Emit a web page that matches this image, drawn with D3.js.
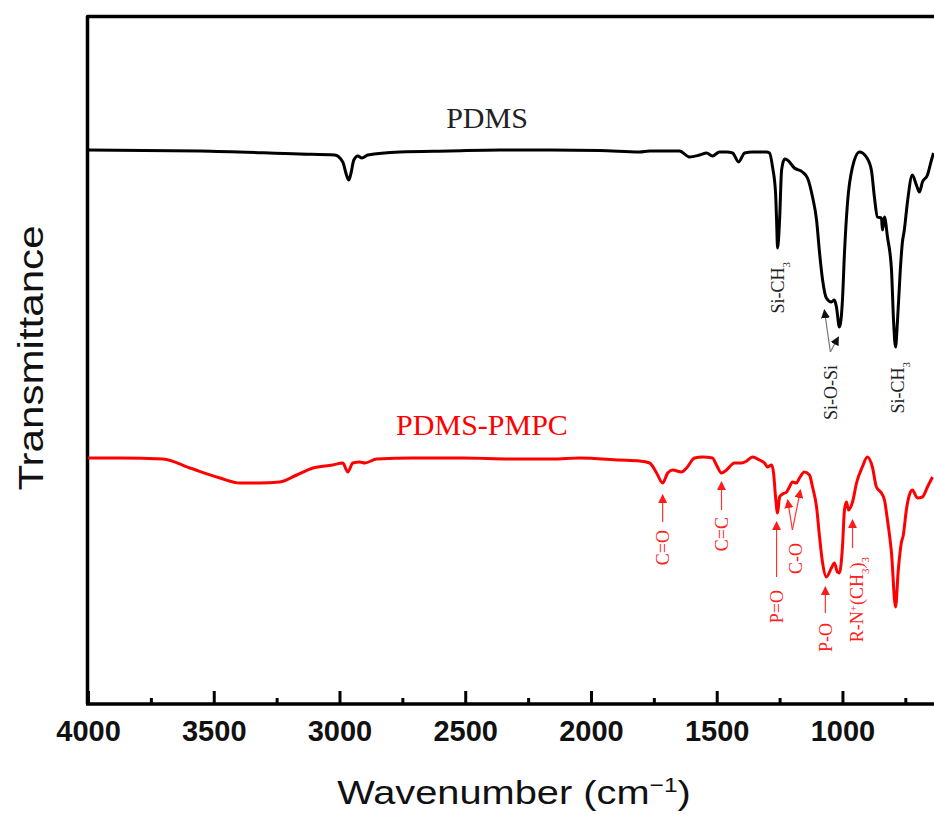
<!DOCTYPE html>
<html>
<head>
<meta charset="utf-8">
<script src="https://cdn.jsdelivr.net/npm/d3@7/dist/d3.min.js"></script>
<style>
body { margin: 0; background: #fff; }
</style>
</head>
<body>
<svg width="934" height="814"></svg>
<script>
// spectra (wavenumber cm-1, transmittance in arbitrary offset units)
var pdmsWn = [4000,3555,3158,3019,2987,2971,2963,2955,2943,2927,2911,2887,2760,2562,2363,2164,1966,1807,1767,1648,1608,1568,1540,1517,1489,1461,1437,1413,1389,1358,1302,1290,1278,1266,1262,1258,1250,1242,1230,1219,1191,1159,1139,1119,1103,1091,1079,1064,1044,1032,1024,1012,1000,992,980,960,932,905,885,873,861,845,841,833,821,805,797,789,781,770,762,754,742,722,706,694,682,662,646,638];
var pdmsT = [138.5,138.25,137.5,137.25,135.5,132,131,132.5,136,137,136.5,137.25,138,138.25,138.5,138.5,138.4,138,138.25,138.25,136.75,137.25,137.75,137,138,138,137.75,135.5,137.75,138,138,137.75,134.25,127.75,121,114,121,133.5,136.25,136,134,133,131.5,126.75,121,112.75,106,101.5,100.5,101,99.25,94.25,101,112.75,125.25,134.25,138,136.75,133.5,126.75,121.75,121.5,118.5,121.75,116.75,108.5,96,89.25,96,108.5,115.25,118.5,125.25,132.25,129.75,128,130.5,132.25,136,137.75];

var pmpcWn = [4000,3873,3702,3595,3475,3396,3317,3237,3170,3106,3027,2987,2967,2947,2919,2899,2852,2709,2510,2311,2152,2045,1886,1807,1767,1739,1715,1695,1675,1640,1620,1588,1556,1517,1501,1481,1461,1429,1401,1381,1358,1330,1310,1298,1282,1274,1266,1258,1250,1238,1222,1211,1199,1183,1171,1151,1131,1119,1103,1091,1079,1064,1044,1032,1020,1012,1000,992,984,976,960,944,921,901,881,865,845,833,821,805,789,778,766,758,746,734,722,702,682,662,642];
var pmpcT = [61.5,61.5,61.25,59,56.5,55.25,55.25,55.5,57.25,59,59.75,60.25,58,60.25,60.5,60.25,61.25,61.5,61.5,61.25,61.25,61.5,61,60.75,60.25,57.75,55.25,57.75,58.5,58,59,61.5,61.75,61.5,59.75,57.75,58.5,60.25,60.25,60.75,61.75,61,60.25,59.25,59.75,57.75,51.75,47.75,51.75,52.5,53,54.25,55.5,55.25,56.5,58,57.25,54.25,49.25,41.75,35.25,31.75,34,35.25,33,32.75,39.25,48.5,50.5,48.5,50.5,55.25,59.25,61.75,59.25,54.25,52.75,51,46,37.75,24.25,33.5,40.25,42.25,48.5,52.25,53.5,51.5,51.75,54.25,56.75];

var majorTicks = [4000,3500,3000,2500,2000,1500,1000];
var minorTicks = [3750,3250,2750,2250,1750,1250,750];

// arrows: [tip wn, tip value, tail wn, tail value]
var redArrows = [[1715,52.25,1715,45.5],[1481,55.5,1481,48.5],[1262,45.5,1262,31.75],[1218,51,1199,43.5],[1167,53.5,1199,43.5],[1068,29.25,1068,22.75],[960,46,960,39]];
var blackArrows = [[1072,98.5,1048,88],[1016,91.75,1048,88]];

// labels: wn of centre, value at top end, text parts [text, shift]
var redLabels = [
  {wn:1715, v:43.5, parts:[["C=O"]]},
  {wn:1481, v:46.75, parts:[["C=C"]]},
  {wn:1262, v:28.5, parts:[["P=O"]]},
  {wn:1187, v:40.25, parts:[["C-O"]]},
  {wn:1068, v:20.25, parts:[["P-O"]]},
  {wn:945, v:36.75, parts:[["R-N"],["+","super"],["(CH"],["3","sub"],[")"],["3","sub"]]}
];
var blackLabels = [
  {wn:1258, v:110.5, parts:[["Si-CH"],["3","sub"]]},
  {wn:1048, v:84.75, parts:[["Si-O-Si"]]},
  {wn:781, v:85.5, parts:[["Si-CH"],["3","sub"]]}
];

var svg = d3.select("svg");

var x = d3.scaleLinear().domain([4000, 636]).range([88, 934]);
var y = d3.scaleLinear().domain([0, 172]).range([704, 16]);

var defs = svg.append("defs");
function marker(id, col) {
  defs.append("marker")
    .attr("id", id)
    .attr("viewBox", "0 0 10 10")
    .attr("refX", 9).attr("refY", 5)
    .attr("markerWidth", 9).attr("markerHeight", 9)
    .attr("markerUnits", "userSpaceOnUse")
    .attr("orient", "auto")
    .append("path")
    .attr("d", "M0,0L10,5L0,10Z")
    .attr("fill", col);
}
marker("headRed", "#ff1a1a");
marker("headBlack", "#111");

// frame
svg.append("path")
  .attr("d", "M87.5,704V16.5H960")
  .attr("fill", "none")
  .attr("stroke", "#000")
  .attr("stroke-width", 3.5)
  .attr("stroke-linejoin", "round");

var axisMajor = d3.axisBottom(x).tickValues(majorTicks).tickSize(-13).tickPadding(16).tickFormat(d3.format("d"));
var gx = svg.append("g").attr("transform", "translate(0,704)").call(axisMajor);
gx.select(".domain").remove();
gx.selectAll(".tick line").attr("stroke", "#000").attr("stroke-width", 3);
gx.selectAll(".tick text")
  .attr("font-family", "Liberation Sans, Arial, sans-serif")
  .attr("font-weight", "bold")
  .attr("font-size", 29)
  .attr("fill", "#111");

var axisMinor = d3.axisBottom(x).tickValues(minorTicks).tickSize(-6).tickFormat("");
var gm = svg.append("g").attr("transform", "translate(0,704)").call(axisMinor);
gm.select(".domain").remove();
gm.selectAll(".tick line").attr("stroke", "#000").attr("stroke-width", 3);

svg.append("line")
  .attr("x1", 86).attr("x2", 960)
  .attr("y1", 704).attr("y2", 704)
  .attr("stroke", "#000").attr("stroke-width", 3.5);

// spectra
var line = d3.line().x(d => x(d[0])).y(d => y(d[1])).curve(d3.curveMonotoneX);
svg.append("path")
  .datum(d3.zip(pdmsWn, pdmsT))
  .attr("d", line)
  .attr("fill", "none")
  .attr("stroke", "#000")
  .attr("stroke-width", 3)
  .attr("stroke-linejoin", "round");
svg.append("path")
  .datum(d3.zip(pmpcWn, pmpcT))
  .attr("d", line)
  .attr("fill", "none")
  .attr("stroke", "#ff0000")
  .attr("stroke-width", 3)
  .attr("stroke-linejoin", "round");

// series names
svg.append("text")
  .attr("x", 487).attr("y", 128)
  .attr("text-anchor", "middle")
  .attr("font-family", "Liberation Serif, Times New Roman, serif")
  .attr("font-size", 30)
  .attr("fill", "#222")
  .text("PDMS");
svg.append("text")
  .attr("x", 482).attr("y", 435)
  .attr("text-anchor", "middle")
  .attr("font-family", "Liberation Serif, Times New Roman, serif")
  .attr("font-size", 30)
  .attr("fill", "#ff0000")
  .text("PDMS-PMPC");

// arrows
function drawArrows(list, stroke, head) {
  svg.selectAll(null)
    .data(list)
    .enter()
    .append("line")
    .attr("x1", d => x(d[2])).attr("y1", d => y(d[3]))
    .attr("x2", d => x(d[0])).attr("y2", d => y(d[1]))
    .attr("stroke", stroke)
    .attr("stroke-width", 1.2)
    .attr("marker-end", "url(#" + head + ")");
}
drawArrows(redArrows, "#ff3333", "headRed");
drawArrows(blackArrows, "#777", "headBlack");

// rotated peak labels
function drawLabels(list, col) {
  var t = svg.selectAll(null)
    .data(list)
    .enter()
    .append("text")
    .attr("transform", d => "translate(" + x(d.wn) + "," + y(d.v) + ") rotate(-90)")
    .attr("text-anchor", "end")
    .attr("dy", "0.35em")
    .attr("font-family", "Liberation Serif, Times New Roman, serif")
    .attr("font-size", 18)
    .attr("fill", col);
  t.each(function(d) {
    var el = d3.select(this);
    d.parts.forEach(p => {
      var s = el.append("tspan").text(p[0]);
      if (p[1]) s.attr("baseline-shift", p[1]).attr("font-size", 11);
    });
  });
}
drawLabels(redLabels, "#ff2020");
drawLabels(blackLabels, "#222");

// axis titles
var xt = svg.append("text")
  .attr("transform", "translate(514,804) scale(1.17,1)")
  .attr("text-anchor", "middle")
  .attr("font-family", "Liberation Sans, Arial, sans-serif")
  .attr("font-size", 34)
  .attr("fill", "#111");
xt.append("tspan").text("Wavenumber (cm");
xt.append("tspan").attr("baseline-shift", "super").attr("font-size", 21).text("\u22121");
xt.append("tspan").text(")");

svg.append("text")
  .attr("transform", "translate(43,358) rotate(-90) scale(1.17,1)")
  .attr("text-anchor", "middle")
  .attr("font-family", "Liberation Sans, Arial, sans-serif")
  .attr("font-size", 36)
  .attr("fill", "#111")
  .text("Transmittance");
</script>
</body>
</html>
